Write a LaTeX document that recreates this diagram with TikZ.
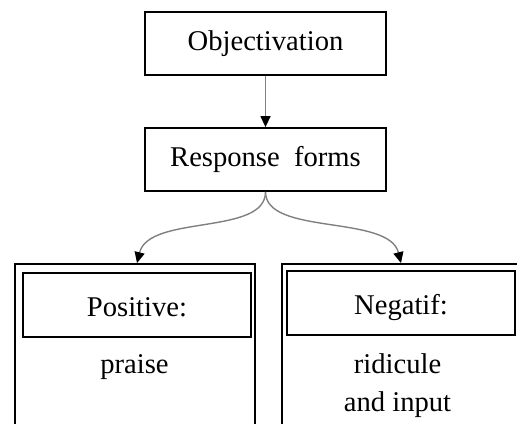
\documentclass[tikz,border=0pt]{standalone}
\usepackage{fontspec}
\setmainfont{Liberation Serif}
\usetikzlibrary{arrows.meta}
\begin{document}
\begin{tikzpicture}[x=0.5pt,y=-0.5pt,
  every node/.style={font=\fontsize{14.3}{17}\selectfont},
  box/.style={draw,line width=0.9pt,minimum width=120.5pt,minimum height=31.5pt,inner sep=0pt},
  headbox/.style={draw,line width=0.8pt,minimum width=114pt,minimum height=32pt,inner sep=0pt,
    text height=11pt,text depth=0pt},
  frame/.style={draw,line width=0.9pt,minimum height=118pt,inner sep=0pt},
  link/.style={draw=gray,line width=0.7pt,-{Triangle[length=5.5pt,width=5pt,color=black,fill=black]}}]
\useasboundingbox (0,0) rectangle (517,423);
\clip (0,0) rectangle (517,423);
\node[box] (obj) at (265.5,43.5) {Objectivation};
\node[box] (resp) at (265.5,159.5) {Response\ \ forms};
\node[frame,minimum width=120pt] (posframe) at (135,382) {};
\node[frame,minimum width=129pt] (negframe) at (411,382) {};
\node[headbox] (poshead) at (137,305) {Positive:};
\node[headbox] (neghead) at (401,303) {Negatif:};
\node (praise) at (134.5,367) {praise};
\node[align=center,font=\fontsize{14.3}{19}\selectfont] (ridicule) at (397.5,386) {ridicule\\and input};
\draw[link] (obj.south) -- (resp.north);
\draw[link] (resp.south) .. controls +(0,44) and +(12,-49) .. (posframe.north -| poshead.north);
\draw[link] (resp.south) .. controls +(0,44) and +(-12,-49) .. (negframe.north -| neghead.north);
\end{tikzpicture}
\end{document}
